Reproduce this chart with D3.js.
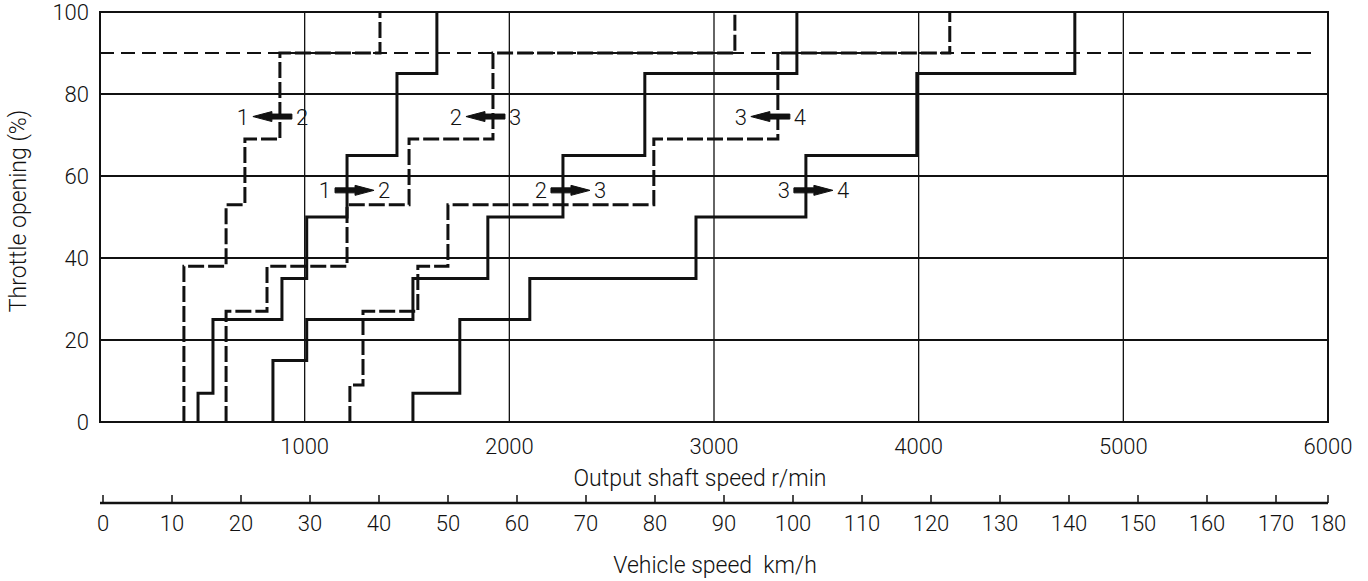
<!DOCTYPE html>
<html>
<head>
<meta charset="utf-8">
<script src="https://cdn.jsdelivr.net/npm/d3@7"></script>
<style>
  body { margin: 0; background: #fff; }
  text { font-family: Roboto, "Liberation Sans", Arial, sans-serif; font-weight: 300; fill: #111; }
</style>
</head>
<body>
<script>
// tick values
var rpmTicks = [1000, 2000, 3000, 4000, 5000, 6000];
var throttleTicks = [0, 20, 40, 60, 80, 100];
var vehicleTicks = [0, 10, 20, 30, 40, 50, 60, 70, 80, 90, 100, 110, 120, 130, 140, 150, 160, 170, 180];

// shift lines: corners as [output shaft r/min, throttle %]
var up12 = [[479,0],[479,7],[552,7],[552,25],[889,25],[889,35],[1010,35],[1010,50],[1207,50],[1207,65],[1451,65],[1451,85],[1646,85],[1646,100]];
var up23 = [[845,0],[845,15],[1010,15],[1010,25],[1529,25],[1529,35],[1895,35],[1895,50],[2262,50],[2262,65],[2662,65],[2662,85],[3405,85],[3405,100]];
var up34 = [[1529,0],[1529,7],[1758,7],[1758,25],[2100,25],[2100,35],[2912,35],[2912,50],[3449,50],[3449,65],[3991,65],[3991,85],[4763,85],[4763,100]];
var down21 = [[410,0],[410,38],[616,38],[616,53],[708,53],[708,69],[879,69],[879,90],[1368,90],[1368,100]];
var down32 = [[616,0],[616,27],[816,27],[816,38],[1207,38],[1207,53],[1510,53],[1510,69],[1920,69],[1920,90],[3102,90],[3102,100]];
var down43 = [[1221,0],[1221,9],[1285,9],[1285,27],[1553,27],[1553,38],[1700,38],[1700,53],[2706,53],[2706,69],[3312,69],[3312,90],[4152,90],[4152,100]];
var kickdown = [[0,90],[5950,90]];

// shift arrows: where they sit, which way they point, gear labels
var arrowRpm = [879, 1920, 3312, 1207, 2262, 3449];
var arrowThrottle = [74.5, 74.5, 74.5, 56.5, 56.5, 56.5];
var arrowDir = [-1, -1, -1, 1, 1, 1];
var arrowFrom = ["1", "2", "3", "1", "2", "3"];
var arrowTo = ["2", "3", "4", "2", "3", "4"];

var W = 1368, H = 581;
var svg = d3.select("body").append("svg").attr("width", W).attr("height", H);

var x = d3.scaleLinear().domain([0, 6000]).range([100, 1328]);
var y = d3.scaleLinear().domain([0, 100]).range([422, 12]);
// vehicle speed scale, 180 sits at the end of the line
var v = d3.scaleLinear().domain([0, 170]).range([103, 1276]);
var vx = function(d) { return Math.min(v(d), x.range()[1]); };

// grid
svg.append("g").selectAll("line").data(rpmTicks.slice(0, -1)).enter().append("line")
  .attr("x1", d => x(d)).attr("x2", d => x(d))
  .attr("y1", y(0)).attr("y2", y(100))
  .attr("stroke", "#111").attr("stroke-width", 1.3);
svg.append("g").selectAll("line").data(throttleTicks.slice(1, -1)).enter().append("line")
  .attr("x1", x(0)).attr("x2", x(6000))
  .attr("y1", d => y(d)).attr("y2", d => y(d))
  .attr("stroke", "#111").attr("stroke-width", 1.8);
svg.append("rect")
  .attr("x", x(0)).attr("y", y(100))
  .attr("width", x(6000) - x(0)).attr("height", y(0) - y(100))
  .attr("fill", "none").attr("stroke", "#111").attr("stroke-width", 2);

// axes labels
svg.append("g").selectAll("text").data(throttleTicks).enter().append("text")
  .attr("x", 89).attr("y", d => y(d) + 8)
  .attr("text-anchor", "end").attr("font-size", 22)
  .text(d => d);
svg.append("g").selectAll("text").data(rpmTicks).enter().append("text")
  .attr("x", d => x(d)).attr("y", 454)
  .attr("text-anchor", "middle").attr("font-size", 22)
  .text(d => d);
svg.append("text")
  .attr("transform", "translate(26," + (y(50) - 6) + ") rotate(-90)")
  .attr("text-anchor", "middle").attr("font-size", 23)
  .text("Throttle opening (%)");
svg.append("text")
  .attr("x", 700).attr("y", 486).attr("text-anchor", "middle").attr("font-size", 23)
  .text("Output shaft speed r/min");

// vehicle speed axis
var vy = 503;
svg.append("line")
  .attr("x1", x(0)).attr("x2", x(6000)).attr("y1", vy).attr("y2", vy)
  .attr("stroke", "#111").attr("stroke-width", 2.5);
svg.append("g").selectAll("line").data(vehicleTicks).enter().append("line")
  .attr("x1", d => vx(d)).attr("x2", d => vx(d))
  .attr("y1", vy).attr("y2", vy - 8)
  .attr("stroke", "#111").attr("stroke-width", 1.5);
svg.append("g").selectAll("text").data(vehicleTicks).enter().append("text")
  .attr("x", d => vx(d)).attr("y", 531)
  .attr("text-anchor", "middle").attr("font-size", 22)
  .text(d => d);
svg.append("text")
  .attr("x", 715).attr("y", 573).attr("text-anchor", "middle").attr("font-size", 23)
  .attr("xml:space", "preserve")
  .text("Vehicle speed  km/h");

// lines
var line = d3.line().x(d => x(d[0])).y(d => y(d[1]));
svg.append("path").datum(kickdown).attr("d", line)
  .attr("fill", "none").attr("stroke", "#111").attr("stroke-width", 1.8)
  .attr("stroke-dasharray", "14,7");

[up12, up23, up34].forEach(function(s) {
  svg.append("path").datum(s).attr("d", line)
    .attr("fill", "none").attr("stroke", "#111").attr("stroke-width", 3)
    .attr("stroke-linejoin", "miter");
});
[down21, down32, down43].forEach(function(s) {
  svg.append("path").datum(s).attr("d", line)
    .attr("fill", "none").attr("stroke", "#111").attr("stroke-width", 3)
    .attr("stroke-dasharray", "16,4");
});

// arrows
arrowRpm.forEach(function(r, i) {
  var cx = x(r), cy = y(arrowThrottle[i]), dir = arrowDir[i];
  var tail = cx - dir * 12, tip = cx + dir * 27, neck = cx + dir * 8;
  var g = svg.append("g");
  g.append("path")
    .attr("d", "M" + tail + "," + (cy - 2.5) + "L" + neck + "," + (cy - 2.5) +
      "L" + neck + "," + (cy - 5) + "L" + tip + "," + cy + "L" + neck + "," + (cy + 5) +
      "L" + neck + "," + (cy + 2.5) + "L" + tail + "," + (cy + 2.5) + "Z")
    .attr("fill", "#111").attr("stroke", "#111").attr("stroke-width", 1).attr("stroke-linejoin", "round");
  var left = Math.min(tail, tip), right = Math.max(tail, tip);
  g.append("text").attr("x", left - 4).attr("y", cy + 8)
    .attr("text-anchor", "end").attr("font-size", 22).text(arrowFrom[i]);
  g.append("text").attr("x", right + 4).attr("y", cy + 8)
    .attr("text-anchor", "start").attr("font-size", 22).text(arrowTo[i]);
});
</script>
</body>
</html>
